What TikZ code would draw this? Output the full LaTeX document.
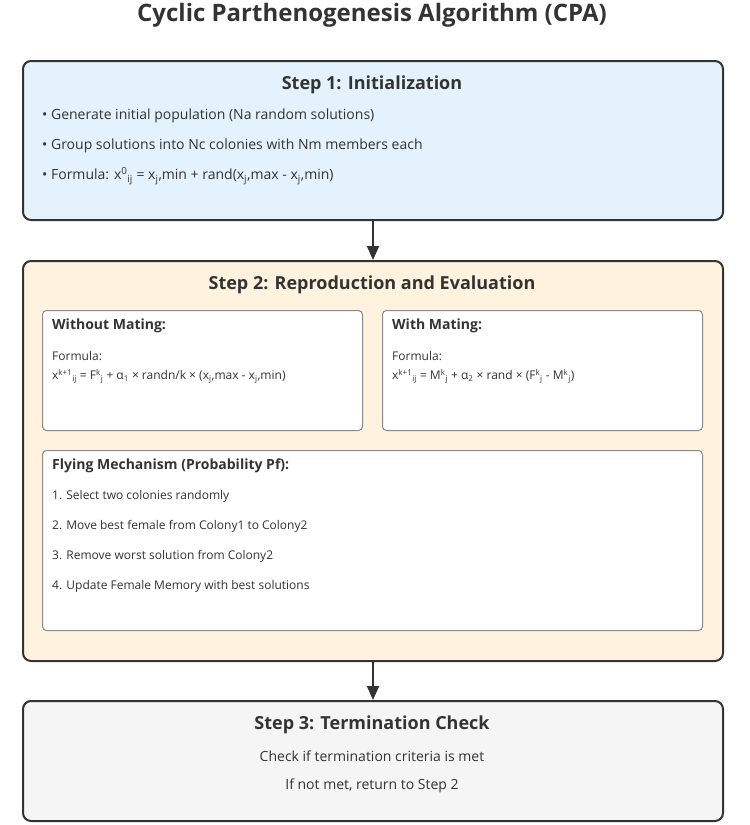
\documentclass[tikz,border=0pt]{standalone}
\usepackage{fontspec}
\setmainfont{Open Sans}
\usetikzlibrary{arrows.meta}

\definecolor{inkgray}{HTML}{333333}
\definecolor{initblue}{HTML}{E3F2FD}
\definecolor{reproorange}{HTML}{FFF3E0}
\definecolor{termgray}{HTML}{F5F5F5}
\definecolor{subborder}{HTML}{8A8A8A}

\tikzset{
  stepbox/.style={draw=inkgray, line width=2pt, rounded corners=8pt, minimum width=700pt, inner sep=0pt, anchor=north west},
  subbox/.style={draw=subborder, line width=1pt, fill=white, rounded corners=4pt, inner sep=0pt, anchor=north west},
  steptitle/.style={font=\fontsize{18}{21}\selectfont\bfseries, text=inkgray, inner sep=0pt},
  bodytext/.style={font=\fontsize{14}{17}\selectfont, text=inkgray, inner sep=0pt},
  subtitle/.style={font=\fontsize{14}{17}\selectfont\bfseries, text=inkgray, anchor=west, inner sep=0pt},
  subtext/.style={font=\fontsize{12}{14}\selectfont, text=inkgray, anchor=west, inner sep=0pt},
  flowarrow/.style={draw=inkgray, line width=2pt, -{Triangle[length=14pt, width=12pt]}}
}

\newcommand{\sbsp}[2]{\textsuperscript{#1}\textsubscript{#2}}

\begin{document}
\begin{tikzpicture}[x=1pt, y=-1pt]
\useasboundingbox (0,0) rectangle (750,825);

% Title
\node[font=\fontsize{24}{28}\selectfont\bfseries, text=inkgray, inner sep=0pt] (title) at (372,15) {Cyclic Parthenogenesis Algorithm (CPA)};

% Step 1: initialization
\node[stepbox, fill=initblue, minimum height=159pt] (init) at (22,60) {};
\node[steptitle] (inithead) at (372,85) {Step 1: Initialization};
\node[bodytext, anchor=west] (initA) at (42,116) {• Generate initial population (Na random solutions)};
\node[bodytext, anchor=west] (initB) at (42,146) {• Group solutions into Nc colonies with Nm members each};
\node[bodytext, anchor=west] (initC) at (42,176) {• Formula: x\sbsp{0}{ij} = x\textsubscript{j},min + rand(x\textsubscript{j},max - x\textsubscript{j},min)};

% Step 2: reproduction and evaluation
\node[stepbox, fill=reproorange, minimum height=400pt] (repro) at (22,260) {};
\node[steptitle] (reprohead) at (372,285) {Step 2: Reproduction and Evaluation};

% without mating
\node[subbox, minimum width=320pt, minimum height=120pt] (nomate) at (42,310) {};
\node[subtitle] (nomatehead) at (52,326) {Without Mating:};
\node[subtext] (nomateA) at (52,356) {Formula:};
\node[subtext] (nomateB) at (52,376) {x\sbsp{k+1}{ij} = F\textsuperscript{k}\textsubscript{j} + α\textsubscript{1} × randn/k × (x\textsubscript{j},max - x\textsubscript{j},min)};

% with mating
\node[subbox, minimum width=320pt, minimum height=120pt] (mate) at (382,310) {};
\node[subtitle] (matehead) at (392,326) {With Mating:};
\node[subtext] (mateA) at (392,356) {Formula:};
\node[subtext] (mateB) at (392,376) {x\sbsp{k+1}{ij} = M\textsuperscript{k}\textsubscript{j} + α\textsubscript{2} × rand × (F\textsuperscript{k}\textsubscript{j} - M\textsuperscript{k}\textsubscript{j})};

% flying mechanism
\node[subbox, minimum width=660pt, minimum height=180pt] (fly) at (42,450) {};
\node[subtitle] (flyhead) at (52,466) {Flying Mechanism (Probability Pf):};
\node[subtext] (flyA) at (52,496) {1. Select two colonies randomly};
\node[subtext] (flyB) at (52,526) {2. Move best female from Colony1 to Colony2};
\node[subtext] (flyC) at (52,556) {3. Remove worst solution from Colony2};
\node[subtext] (flyD) at (52,586) {4. Update Female Memory with best solutions};

% Step 3: termination check
\node[stepbox, fill=termgray, minimum height=120pt] (term) at (22,700) {};
\node[steptitle] (termhead) at (372,725) {Step 3: Termination Check};
\node[bodytext] (termA) at (372,756) {Check if termination criteria is met};
\node[bodytext] (termB) at (372,786) {If not met, return to Step 2};

% Arrows between steps
\draw[flowarrow] (init.south) -- (repro.north);
\draw[flowarrow] (repro.south) -- (term.north);
\end{tikzpicture}
\end{document}
